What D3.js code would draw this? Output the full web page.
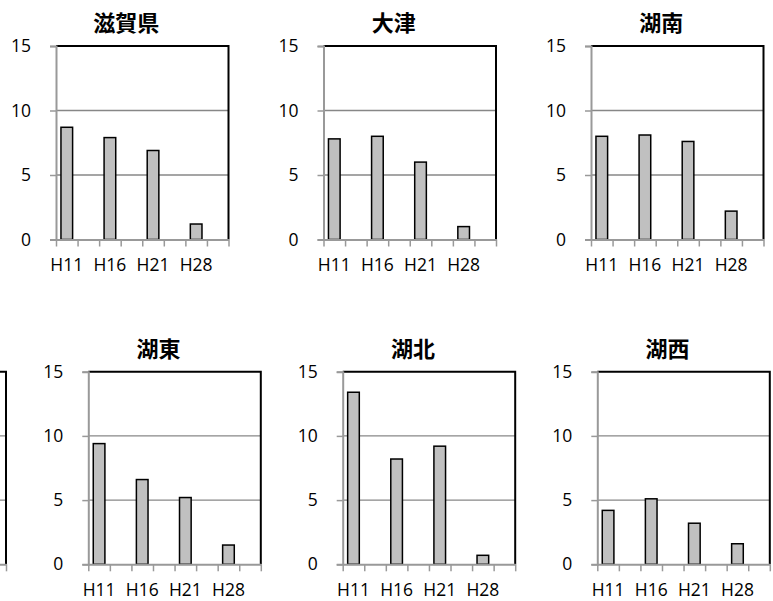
<!DOCTYPE html>
<html>
<head>
<meta charset="utf-8">
<script src="https://cdn.jsdelivr.net/npm/d3@7"></script>
<style>
    body { margin: 0; background: #fff; }
    #chart { width: 773px; height: 601px; }
    .title { font-family: "Noto Sans CJK JP", sans-serif; font-weight: bold; font-size: 22px; }
    .tick text { font-family: "Open Sans", sans-serif; font-size: 17.5px; fill: #000; }
</style>
</head>
<body>
<div id="chart"></div>
<script>

// x slots: every other slot is an empty category in the source sheet
let tickLabels = ["H11", "", "H16", "", "H21", "", "H28", ""];
let yTicks = [0, 5, 10, 15];

let shiga  = [8.7, null, 7.9, null, 6.9, null, 1.2, null];
let otsu   = [7.8, null, 8.0, null, 6.0, null, 1.0, null];
let konan  = [8.0, null, 8.1, null, 7.6, null, 2.2, null];
let koto   = [9.4, null, 6.6, null, 5.2, null, 1.5, null];
let kohoku = [13.4, null, 8.2, null, 9.2, null, 0.7, null];
let kosei  = [4.2, null, 5.1, null, 3.2, null, 1.6, null];
let hidden = [null, null, null, null, null, null, null, null];   // panel cut off at the left edge, values not visible

let regionNames = ["滋賀県", "大津", "湖南", "", "湖東", "湖北", "湖西"];
let regionValues = [shiga, otsu, konan, hidden, koto, kohoku, kosei];

// plot-area placement of each small chart (the 4th one sits mostly off the page)
let layout = [
    {left: 56, top: 46, height: 193.5},
    {left: 323.5, top: 46, height: 193.5},
    {left: 591, top: 46, height: 193.5},
    {left: -166.5, top: 371.7, height: 192.6, offPage: true},
    {left: 88.3, top: 371.7, height: 192.6},
    {left: 342.7, top: 371.7, height: 192.6},
    {left: 597.3, top: 371.7, height: 192.6}
];


class SmallBarChart {

    constructor(svg, title, values, box) {
        this.svg = svg;
        this.title = title;
        this.values = values;
        this.box = box;

        this.initVis()
    }

    initVis() {
        let vis = this

        vis.width = 172.5;
        vis.height = vis.box.height;

        vis.g = vis.svg.append("g")
            .attr("transform", `translate(${vis.box.left}, ${vis.box.top})`);

        vis.x = d3.scaleBand()
            .domain(d3.range(tickLabels.length))
            .range([0, vis.width])
            .paddingInner(0.46)
            .paddingOuter(0.23);

        // edges between the slots, for the tick marks
        vis.xEdge = d3.scaleLinear()
            .domain([0, tickLabels.length])
            .range([0, vis.width]);

        vis.y = d3.scaleLinear()
            .domain([0, 15])
            .range([vis.height, 0]);

        // title
        if (!vis.box.offPage) {
            vis.g.append("text")
                .attr("class", "title")
                .attr("x", vis.width / 2 - 16)
                .attr("y", -15)
                .attr("text-anchor", "middle")
                .text(vis.title);
        }

        vis.updateVis()
    }

    updateVis() {
        let vis = this;

        // horizontal gridlines
        vis.g.selectAll(".grid")
            .data(yTicks.filter(d => d > 0 && d < 15))
            .enter().append("line")
            .attr("class", "grid")
            .attr("x1", 0)
            .attr("x2", vis.width)
            .attr("y1", d => vis.y(d))
            .attr("y2", d => vis.y(d))
            .attr("stroke", "#878787")
            .attr("stroke-width", 1.3);

        // bars
        let bars = vis.values
            .map((v, i) => ({i: i, v: v}))
            .filter(d => d.v !== null);

        vis.g.selectAll(".bar")
            .data(bars)
            .enter().append("rect")
            .attr("class", "bar")
            .attr("x", d => vis.x(d.i))
            .attr("width", vis.x.bandwidth())
            .attr("y", d => vis.y(d.v))
            .attr("height", d => vis.y(0) - vis.y(d.v))
            .attr("fill", "#c0c0c0")
            .attr("stroke", "#000")
            .attr("stroke-width", 1.5);

        // plot area border (top and right show black)
        vis.g.append("path")
            .attr("d", `M0,0H${vis.width}V${vis.height}`)
            .attr("fill", "none")
            .attr("stroke", "#000")
            .attr("stroke-width", 2);

        // y axis
        let yAxis = d3.axisLeft(vis.y)
            .tickValues(yTicks)
            .tickSize(6)
            .tickPadding(19);
        if (vis.box.offPage) yAxis.tickFormat("");

        let yg = vis.g.append("g").call(yAxis);
        yg.select(".domain").attr("stroke", "#999").attr("stroke-width", 2);
        yg.selectAll(".tick line").attr("stroke", "#999").attr("stroke-width", 1.5);

        // x axis: tick marks on the slot edges
        let edgeAxis = d3.axisBottom(vis.xEdge)
            .tickValues(d3.range(tickLabels.length + 1))
            .tickSize(7)
            .tickSizeOuter(0)
            .tickFormat("");

        let eg = vis.g.append("g")
            .attr("transform", `translate(0, ${vis.height})`)
            .call(edgeAxis);
        eg.select(".domain").attr("stroke", "#999").attr("stroke-width", 2);
        eg.selectAll(".tick line").attr("stroke", "#999").attr("stroke-width", 1.5);

        // x axis: labels in the slot centres
        if (vis.box.offPage) return;

        let labelAxis = d3.axisBottom(vis.x)
            .tickSize(0)
            .tickPadding(19)
            .tickFormat(i => tickLabels[i]);

        let lg = vis.g.append("g")
            .attr("transform", `translate(0, ${vis.height})`)
            .call(labelAxis);
        lg.select(".domain").remove();
    }
}


let svg = d3.select("#chart")
    .append("svg")
    .attr("width", 773)
    .attr("height", 601);

regionNames.forEach((name, i) => {
    new SmallBarChart(svg, name, regionValues[i], layout[i]);
});

</script>
</body>
</html>
